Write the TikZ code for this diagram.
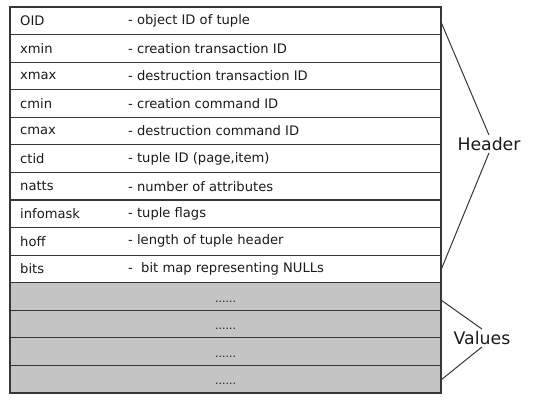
\documentclass[tikz,border=0pt]{standalone}
\usepackage{fontspec}
\setmainfont{DejaVu Sans}
\definecolor{linec}{RGB}{55,55,55}
\definecolor{valfill}{RGB}{196,196,196}
\definecolor{txtc}{RGB}{25,25,25}
\begin{document}
\begin{tikzpicture}[x=1pt,y=-1pt,
  rowbox/.style={draw=linec,line width=1.1pt,rectangle,minimum width=431pt,minimum height=27.57pt,inner sep=0pt,outer sep=0pt},
  valbox/.style={rowbox,fill=valfill},
  fieldtxt/.style={anchor=west,inner sep=0pt,text=txtc,font=\fontsize{13.1}{15}\selectfont},
  dotstxt/.style={inner sep=0pt,text=txtc,font=\fontsize{11}{12}\selectfont},
  labeltxt/.style={inner sep=2pt,text=txtc,font=\fontsize{17.3}{20}\selectfont},
  brace/.style={draw=linec,line width=1pt}]
\useasboundingbox (0,0) rectangle (544,406);
\foreach \i/\f/\d in {1/OID/- object ID of tuple,
  2/xmin/- creation transaction ID,
  3/xmax/- destruction transaction ID,
  4/cmin/- creation command ID,
  5/cmax/- destruction command ID,
  6/ctid/- tuple ID (page{,}item),
  7/natts/- number of attributes,
  8/infomask/- tuple flags,
  9/hoff/- length of tuple header,
  10/bits/-\ \ bit map representing NULLs}{
  \node[rowbox] (r\i) at (225.5,{7+(\i-0.5)*27.57}) {};
  \node[fieldtxt] (f\i) at (20,{7+(\i-0.5)*27.57}) {\f};
  \node[fieldtxt] (d\i) at (128,{7+(\i-0.5)*27.57}) {\d};
}
\foreach \i in {11,...,14}{
  \node[valbox] (r\i) at (225.5,{7+(\i-0.5)*27.57}) {};
  \node[dotstxt] (v\i) at ([yshift=-5pt]r\i.center) {......};
}
\node[labeltxt] (hdr) at (489,144) {Header};
\node[labeltxt] (vals) at (482,338) {Values};
\coordinate (htop) at (441,22);
\coordinate (hbot) at (441,270);
\coordinate (vtop) at (441,300);
\coordinate (vbot) at (441,380);
\draw[brace] (htop) -- (hdr.north);
\draw[brace] (hdr.south) -- (hbot);
\draw[brace] (vtop) -- (vals.north);
\draw[brace] (vals.south) -- (vbot);
\end{tikzpicture}
\end{document}
